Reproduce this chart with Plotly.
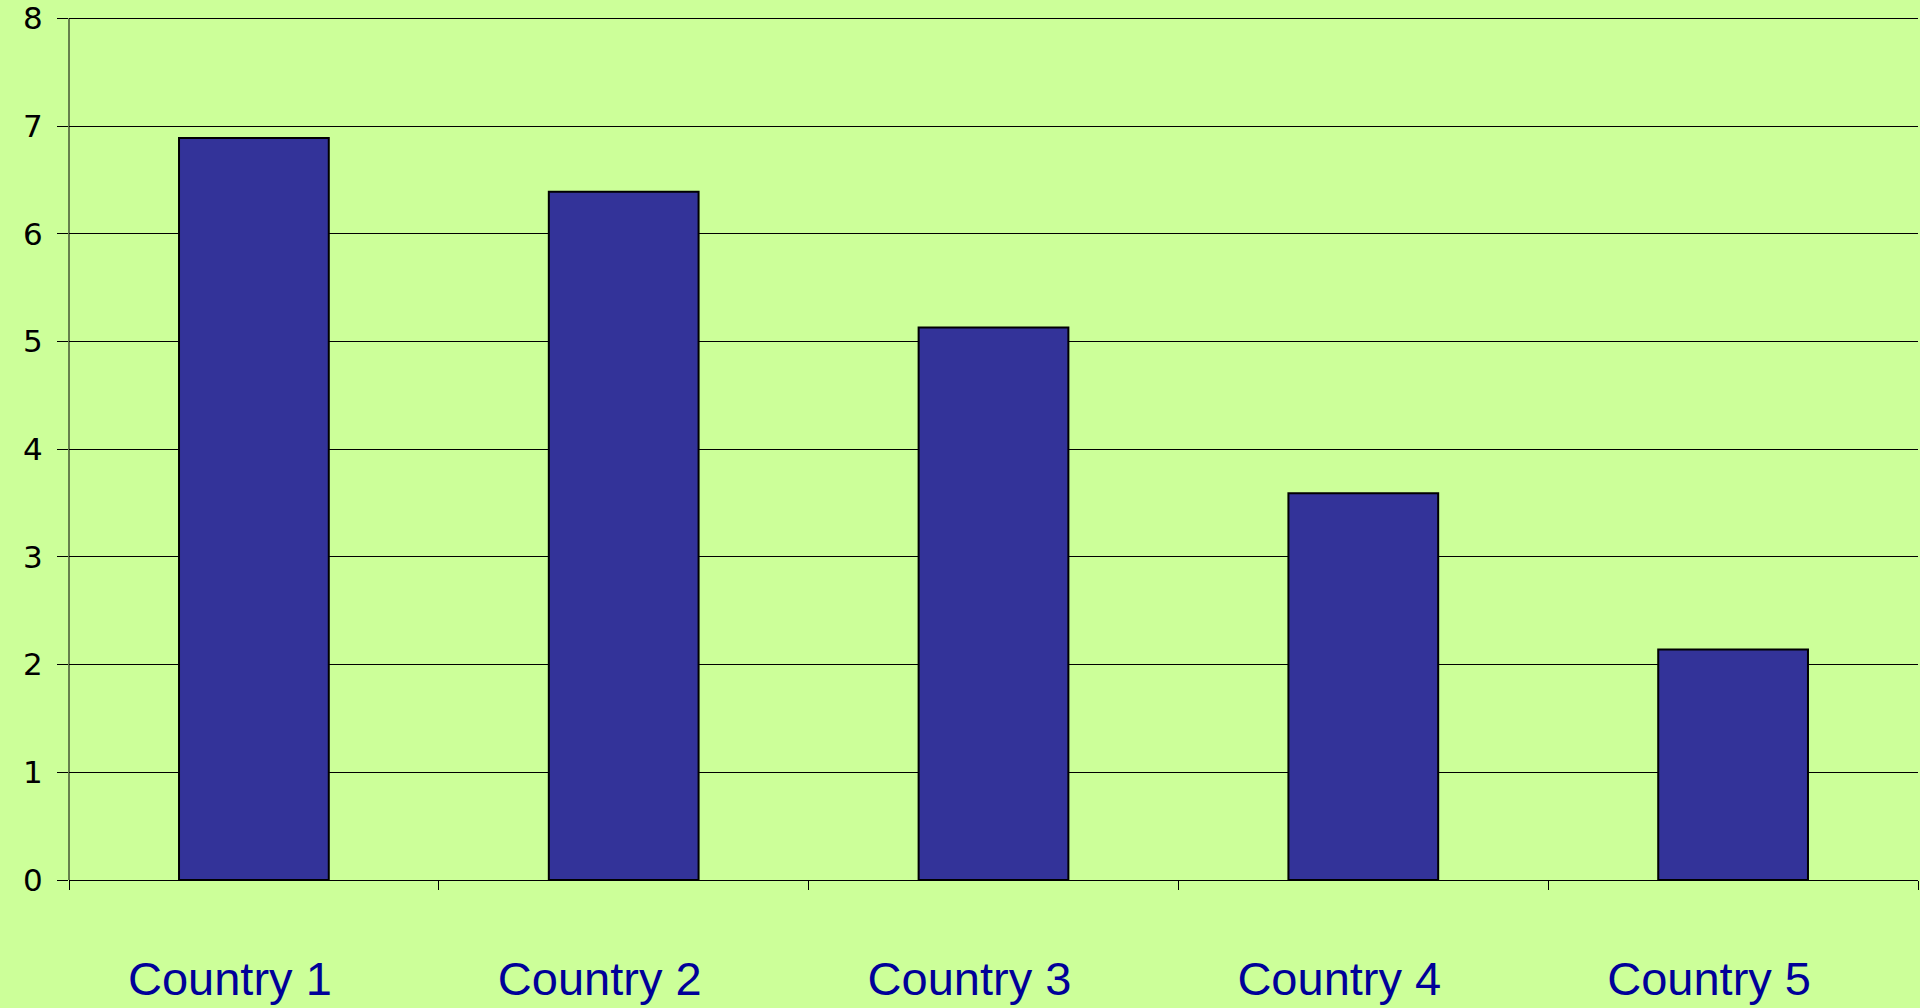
import plotly.graph_objects as go

# Category labels and bar values
countries = ["Country 1", "Country 2", "Country 3", "Country 4", "Country 5"]
values = [6.89, 6.39, 5.13, 3.59, 2.14]
y_ticks = [0, 1, 2, 3, 4, 5, 6, 7, 8]

BG = "#CCFF99"
BAR = "#333399"

fig = go.Figure(
    go.Bar(
        x=countries,
        y=values,
        marker=dict(color=BAR, line=dict(color="#000000", width=2)),
        hoverinfo="x+y",
    )
)

fig.update_layout(
    width=1920,
    height=1008,
    margin=dict(l=69, r=2, t=13, b=128),
    paper_bgcolor=BG,
    plot_bgcolor=BG,
    bargap=0.595,
    showlegend=False,
    font=dict(family="Liberation Sans, Arial, sans-serif"),
)

fig.update_xaxes(
    type="category",
    automargin=False,
    showgrid=False,
    showline=True,
    linecolor="#000000",
    linewidth=1,
    ticks="outside",
    tickson="boundaries",
    ticklen=9,
    tickwidth=1,
    tickcolor="#000000",
    tickfont=dict(size=47, color="#000099"),
    ticklabelstandoff=58,
    ticklabelshift=-24,
    zeroline=False,
)

# range runs a little past 8 so the top gridline sits inside the plot area
fig.update_yaxes(
    range=[0, 8.05],
    automargin=False,
    tickvals=y_ticks,
    showgrid=True,
    gridcolor="#000000",
    gridwidth=1,
    showline=False,
    ticks="outside",
    ticklen=11,
    tickwidth=1,
    tickcolor="#000000",
    tickfont=dict(size=31, color="#000000", family="DejaVu Sans, Arial, sans-serif"),
    ticklabelstandoff=8,
    zeroline=False,
)

# value axis line, running only from the lowest to the highest tick
fig.add_shape(
    type="line",
    xref="paper", yref="y",
    x0=0, x1=0,
    y0=y_ticks[0], y1=y_ticks[-1],
    line=dict(color="#000000", width=1),
    layer="above",
)

fig.write_html("out.html")
